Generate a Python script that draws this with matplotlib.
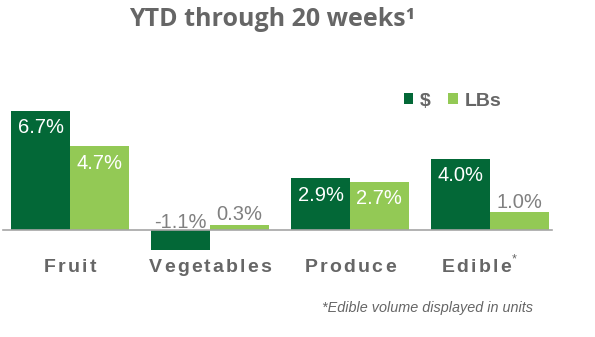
import matplotlib
matplotlib.use("Agg")
import matplotlib.pyplot as plt

# data
categories = ["Fruit", "Vegetables", "Produce", "Edible"]
dollars = [6.7, -1.1, 2.9, 4.0]
pounds = [4.7, 0.3, 2.7, 1.0]
series_names = ["$", "LBs"]

dark = "#036837"
light = "#93C955"
gray = "#666666"
label_gray = "#808080"

fig = plt.figure(figsize=(5.95, 3.37), dpi=100)
# axes fill the figure, data coords chosen so bars land where the reference has them
ax = fig.add_axes([0, 0, 1, 1])
ax.set_xlim(-0.5, 3.75)
ax.set_ylim(-6.01, 12.92)
ax.axis("off")

w = 0.42
x = list(range(len(categories)))
b1 = ax.bar([i - w / 2 for i in x], dollars, w, color=dark, label=series_names[0])
b2 = ax.bar([i + w / 2 for i in x], pounds, w, color=light, label=series_names[1])
ax.axhline(0, xmin=0.005, xmax=0.927, color="#a6a6a6", lw=1.2)

# value labels: white inside tall bars, gray above short ones
def put_labels(bars, vals):
    for rect, v in zip(bars, vals):
        cx = rect.get_x() + rect.get_width() / 2
        txt = f"{v:.1f}%"
        if v >= 2:
            y, col = v - 0.95, "white"
        elif v < 0:
            y, col = 0.42, label_gray
        else:
            y, col = v + 0.55, label_gray
        ax.text(cx, y, txt, ha="center", va="center", color=col, fontsize=14.5,
                family="Liberation Sans")

put_labels(b1, dollars)
put_labels(b2, pounds)

fig.canvas.draw()
r = fig.canvas.get_renderer()

# category labels are letter spaced, so write them char by char (gap in px)
def spaced(xc, y, s, gap, **kw):
    parts = []
    for ch in s:
        t = ax.text(0, y, ch, va="center", ha="left", family="Liberation Sans", **kw)
        parts.append((t, t.get_window_extent(r).width))
    total = sum(p[1] for p in parts) + gap * (len(parts) - 1)
    px0 = ax.transData.transform((xc, y))[0] - total / 2
    for t, wd in parts:
        t.set_x(ax.transData.inverted().transform((px0, 0))[0])
        px0 += wd + gap
    return px0 - gap

shift = {"Edible": -0.1}
for i, c in enumerate(categories):
    end = spaced(i + shift.get(c, 0), -2.08, c, 2.2, fontsize=14, fontweight="bold", color=gray)
    if c == "Edible":
        ax.text(ax.transData.inverted().transform((end + 1, 0))[0], -1.65, "*",
                fontsize=9, color=gray, family="Liberation Sans", va="center", ha="left")

fig.text(272 / 595, 1 - 19 / 337, "YTD through 20 weeks\u00b9", ha="center", va="center",
         fontsize=18, color=gray, family="Open Sans", fontweight="bold")

leg = ax.legend(loc="center left", bbox_to_anchor=(386 / 595, 1 - 101 / 337), ncol=2,
                frameon=False, handlelength=0.5, handleheight=0.5, handletextpad=0.35,
                columnspacing=0.9, prop={"family": "Liberation Sans", "weight": "bold", "size": 14})
for t in leg.get_texts():
    t.set_color(gray)

fig.text(428 / 595, 1 - 308 / 337, "*Edible volume displayed in units", ha="center", va="center",
         fontsize=10.4, style="italic", color=gray, family="Liberation Sans")

fig.savefig("out.png", dpi=100)
